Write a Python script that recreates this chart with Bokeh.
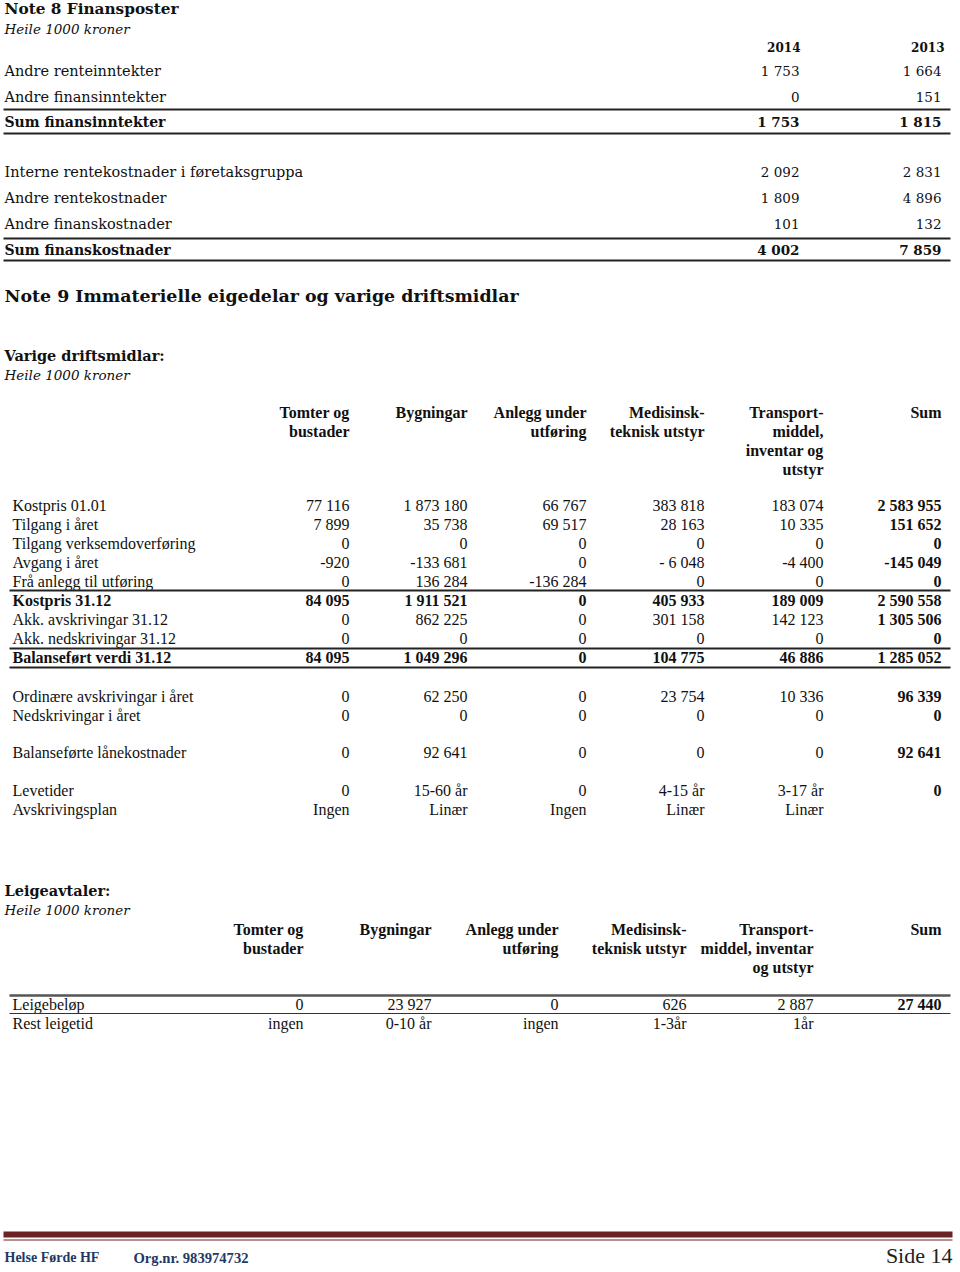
from bokeh.plotting import figure
from bokeh.models import Range1d
from bokeh.core.properties import value
from bokeh.embed import file_html
from bokeh.resources import INLINE

# ---------------- Note 8 data ----------------
n8_title = "Note 8 Finansposter"
n8_unit = "Heile 1000 kroner"
n8_years = ["2014", "2013"]
n8_income_labels = ["Andre renteinntekter", "Andre finansinntekter"]
n8_income_2014 = ["1 753", "0"]
n8_income_2013 = ["1 664", "151"]
n8_income_sum = ["Sum finansinntekter", "1 753", "1 815"]
n8_cost_labels = ["Interne rentekostnader i føretaksgruppa", "Andre rentekostnader", "Andre finanskostnader"]
n8_cost_2014 = ["2 092", "1 809", "101"]
n8_cost_2013 = ["2 831", "4 896", "132"]
n8_cost_sum = ["Sum finanskostnader", "4 002", "7 859"]

# ---------------- Note 9 data ----------------
n9_title = "Note 9 Immaterielle eigedelar og varige driftsmidlar"
n9_sub = "Varige driftsmidlar:"
n9_headers = [["Tomter og", "bustader"], ["Bygningar"], ["Anlegg under", "utføring"],
              ["Medisinsk-", "teknisk utstyr"], ["Transport-", "middel,", "inventar og", "utstyr"], ["Sum"]]
n9_labels = ["Kostpris 01.01", "Tilgang i året", "Tilgang verksemdoverføring", "Avgang i året",
             "Frå anlegg til utføring", "Kostpris 31.12", "Akk. avskrivingar 31.12",
             "Akk. nedskrivingar 31.12", "Balanseført verdi 31.12",
             "Ordinære avskrivingar i året", "Nedskrivingar i året",
             "Balanseførte lånekostnader", "Levetider", "Avskrivingsplan"]
n9_bold_rows = ["Kostpris 31.12", "Balanseført verdi 31.12"]
kostpris_0101 = ["77 116", "1 873 180", "66 767", "383 818", "183 074", "2 583 955"]
tilgang = ["7 899", "35 738", "69 517", "28 163", "10 335", "151 652"]
tilgang_verksemd = ["0", "0", "0", "0", "0", "0"]
avgang = ["-920", "-133 681", "0", "- 6 048", "-4 400", "-145 049"]
fra_anlegg = ["0", "136 284", "-136 284", "0", "0", "0"]
kostpris_3112 = ["84 095", "1 911 521", "0", "405 933", "189 009", "2 590 558"]
akk_avskr = ["0", "862 225", "0", "301 158", "142 123", "1 305 506"]
akk_nedskr = ["0", "0", "0", "0", "0", "0"]
balansefort = ["84 095", "1 049 296", "0", "104 775", "46 886", "1 285 052"]
ordinaere_avskr = ["0", "62 250", "0", "23 754", "10 336", "96 339"]
nedskr_aaret = ["0", "0", "0", "0", "0", "0"]
laanekostnader = ["0", "92 641", "0", "0", "0", "92 641"]
levetider = ["0", "15-60 år", "0", "4-15 år", "3-17 år", "0"]
avskr_plan = ["Ingen", "Linær", "Ingen", "Linær", "Linær", ""]
n9_values = [kostpris_0101, tilgang, tilgang_verksemd, avgang, fra_anlegg, kostpris_3112,
             akk_avskr, akk_nedskr, balansefort, ordinaere_avskr, nedskr_aaret,
             laanekostnader, levetider, avskr_plan]

# ---------------- Leigeavtaler data ----------------
lg_title = "Leigeavtaler:"
lg_headers = [["Tomter og", "bustader"], ["Bygningar"], ["Anlegg under", "utføring"],
              ["Medisinsk-", "teknisk utstyr"], ["Transport-", "middel, inventar", "og utstyr"], ["Sum"]]
lg_labels = ["Leigebeløp", "Rest leigetid"]
leigebelop = ["0", "23 927", "0", "626", "2 887", "27 440"]
rest_leigetid = ["ingen", "0-10 år", "ingen", "1-3år", "1år", ""]
lg_values = [leigebelop, rest_leigetid]

footer_org = "Helse Førde HF"
footer_nr = "Org.nr.  983974732"
footer_page = "Side 14"

# ---------------- layout ----------------
W, H = 960, 1272
p = figure(width=W, height=H, output_backend="svg", toolbar_location=None,
           x_range=Range1d(0, W), y_range=Range1d(H, 0), min_border=0)
p.axis.visible = False
p.grid.visible = False
p.outline_line_color = None

SLAB = "DejaVu Serif"
TIMES = "Liberation Serif"
INK = "#111111"


def txt(x, y, s, font=TIMES, size="16px", style="normal", align="left", color=INK):
    p.text(x=[x], y=[y], text=[s], text_font=value(font), text_font_size=size,
           text_font_style=style, text_align=align, text_baseline="middle", text_color=color)


def hline(y, x0, x1, w=2, color="#222222"):
    p.segment(x0=[x0], y0=[y], x1=[x1], y1=[y], line_width=w, line_color=color)


# Note 8
txt(4, 8, n8_title, SLAB, "15.3px", "bold")
txt(4, 28, n8_unit, SLAB, "13.5px", "italic")
n8_cols = [800, 944]
for xc, yr in zip(n8_cols, n8_years):
    txt(xc, 46, yr, SLAB, "12px", "bold", "right")
for i, lab in enumerate(n8_income_labels):
    y = 70 + 26 * i
    txt(4, y, lab, SLAB, "14.5px")
    txt(n8_cols[0] - 1, y, n8_income_2014[i], SLAB, "13.5px", align="right")
    txt(n8_cols[1] - 3, y, n8_income_2013[i], SLAB, "13.5px", align="right")
hline(109, 3, 950)
txt(4, 121, n8_income_sum[0], SLAB, "14px", "bold")
txt(n8_cols[0] - 1, 121, n8_income_sum[1], SLAB, "13.5px", "bold", "right")
txt(n8_cols[1] - 3, 121, n8_income_sum[2], SLAB, "13.5px", "bold", "right")
hline(133, 3, 950)
for i, lab in enumerate(n8_cost_labels):
    y = 171 + 26 * i
    txt(4, y, lab, SLAB, "14.5px")
    txt(n8_cols[0] - 1, y, n8_cost_2014[i], SLAB, "13.5px", align="right")
    txt(n8_cols[1] - 3, y, n8_cost_2013[i], SLAB, "13.5px", align="right")
hline(238, 3, 950)
txt(4, 249, n8_cost_sum[0], SLAB, "14px", "bold")
txt(n8_cols[0] - 1, 249, n8_cost_sum[1], SLAB, "13.5px", "bold", "right")
txt(n8_cols[1] - 3, 249, n8_cost_sum[2], SLAB, "13.5px", "bold", "right")
hline(260, 3, 950)

# Note 9
txt(4, 295, n9_title, SLAB, "17.4px", "bold")
txt(4, 355, n9_sub, SLAB, "14.5px", "bold")
txt(4, 374, n8_unit, SLAB, "13.5px", "italic")
n9_cols = [349, 467, 586, 704, 823, 941]
for xc, lines in zip(n9_cols, n9_headers):
    for j, ln in enumerate(lines):
        txt(xc, 412 + 19 * j, ln, TIMES, "16px", "bold", "right")
n9_y = [505, 524, 543, 562, 581, 600, 619, 638, 657, 696, 715, 752, 790, 809]
for lab, vals, y in zip(n9_labels, n9_values, n9_y):
    bold = lab in n9_bold_rows
    txt(12, y, lab, TIMES, "16px", "bold" if bold else "normal")
    for k, (xc, v) in enumerate(zip(n9_cols, vals)):
        st = "bold" if (bold or k == 5) else "normal"
        txt(xc, y, v, TIMES, "16px", st, "right")
hline(590, 9, 950)
hline(648, 9, 950)
hline(667, 9, 950)

# Leigeavtaler
txt(4, 890, lg_title, SLAB, "14.5px", "bold")
txt(4, 909, n8_unit, SLAB, "13.5px", "italic")
lg_cols = [303, 431, 558, 686, 813, 941]
for xc, lines in zip(lg_cols, lg_headers):
    for j, ln in enumerate(lines):
        txt(xc, 929 + 19 * j, ln, TIMES, "16px", "bold", "right")
lg_y = [1004, 1023]
for lab, vals, y in zip(lg_labels, lg_values, lg_y):
    txt(12, y, lab, TIMES, "16px")
    for k, (xc, v) in enumerate(zip(lg_cols, vals)):
        txt(xc, y, v, TIMES, "16px", "bold" if k == 5 else "normal", "right")
hline(995, 9, 950, 2.5, "#555555")
hline(1013, 9, 950, 1.2, "#333333")

# Footer
p.quad(left=[3], right=[952], top=[1231], bottom=[1237], fill_color="#6b2323", line_color=None)
hline(1239.5, 3, 952, 1, "#6b2323")
txt(4, 1257, footer_org, TIMES, "14px", "bold", color="#1F3864")
txt(133, 1257, footer_nr, TIMES, "14.6px", "bold", color="#1F3864")
txt(952, 1255, footer_page, "Liberation Sans Narrow", "22px", "normal", "right", "#222222")

open("out.html", "w").write(file_html(p, INLINE))
